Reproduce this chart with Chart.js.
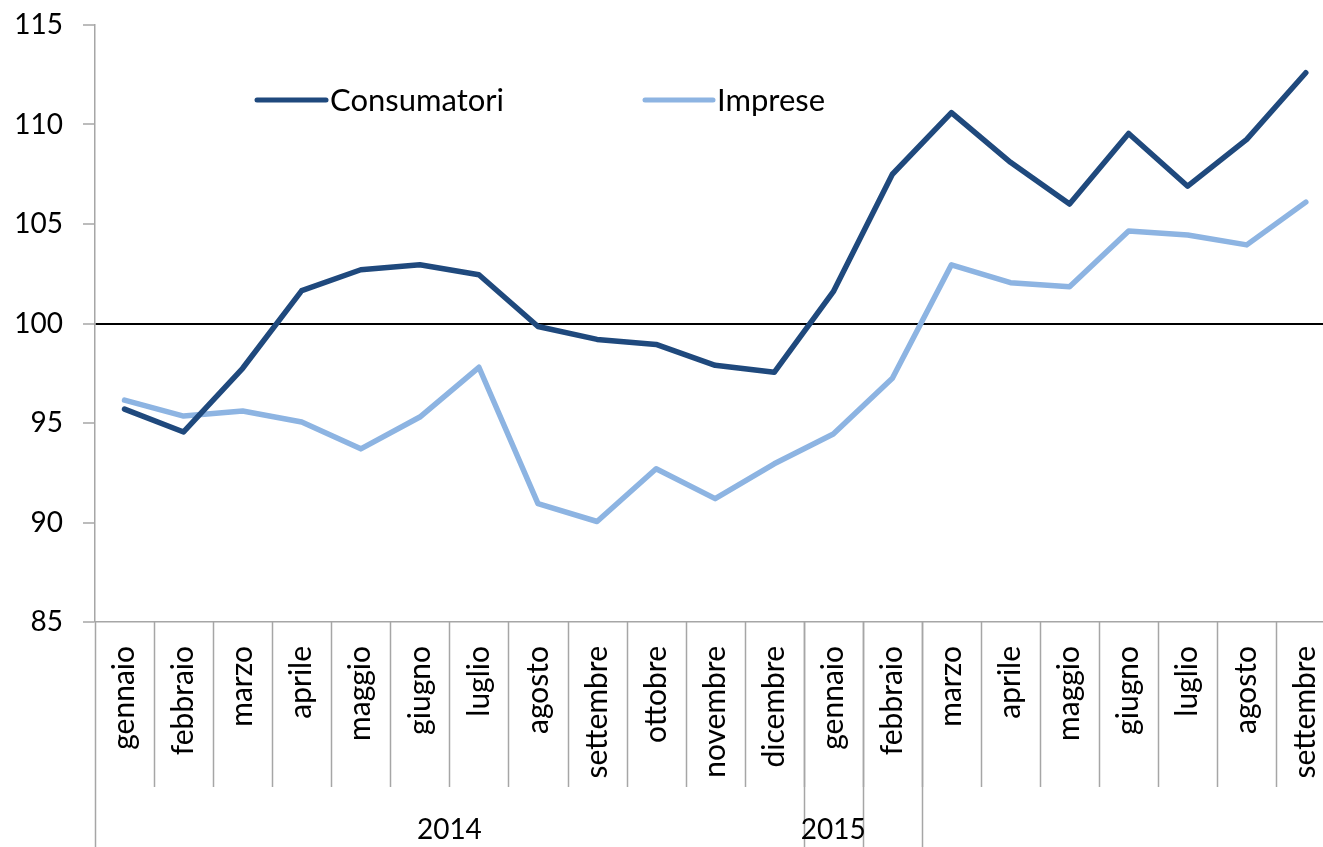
<!DOCTYPE html>
<html>
<head>
<meta charset="utf-8">
<script src="https://cdn.jsdelivr.net/npm/chart.js@4"></script>
<style>
  html, body { margin: 0; padding: 0; background: #fff; overflow: hidden; }
  #wrap { width: 1358px; height: 847px; }
</style>
</head>
<body>
<div id="wrap"><canvas id="myChart" width="1358" height="847"></canvas></div>
<script>
const months = ['gennaio', 'febbraio', 'marzo', 'aprile', 'maggio', 'giugno', 'luglio', 'agosto',
  'settembre', 'ottobre', 'novembre', 'dicembre',
  'gennaio', 'febbraio', 'marzo', 'aprile', 'maggio', 'giugno', 'luglio', 'agosto', 'settembre'];
const consumatori = [95.7, 94.55, 97.75, 101.65, 102.7, 102.95, 102.45, 99.85, 99.2, 98.95, 97.9, 97.55,
  101.6, 107.5, 110.6, 108.1, 106.0, 109.55, 106.9, 109.25, 112.6];
const imprese = [96.15, 95.35, 95.6, 95.05, 93.7, 95.3, 97.8, 90.95, 90.05, 92.7, 91.2, 92.95,
  94.45, 97.25, 102.95, 102.05, 101.85, 104.65, 104.45, 103.95, 106.1];
const years = ['2014', '2015'];
const yearSpans = [[0, 12], [12, 13]];
const yearDividers = [0, 12, 13, 14];
const yTicks = [85, 90, 95, 100, 105, 110, 115];

const FONT = 'Lato, "Noto Sans", sans-serif';
const axisGrey = '#a6a6a6';

const extras = {
  id: 'extras',
  afterDraw(chart) {
    const ctx = chart.ctx;
    const x = chart.scales.x;
    const n = months.length;
    const w = (x.right - x.left) / n;
    const top = x.top;
    ctx.save();
    ctx.strokeStyle = axisGrey;
    ctx.lineWidth = 1.5;
    // separators between months
    for (let i = 1; i <= n; i++) {
      const bx = Math.round(x.left + i * w) + 0.5;
      ctx.beginPath();
      ctx.moveTo(bx, top);
      ctx.lineTo(bx, top + 165);
      ctx.stroke();
    }
    // year dividers
    yearDividers.forEach(i => {
      const bx = Math.round(x.left + i * w) + 0.5;
      ctx.beginPath();
      ctx.moveTo(bx, top);
      ctx.lineTo(bx, chart.height);
      ctx.stroke();
    });
    // year labels
    ctx.fillStyle = '#000';
    ctx.font = '28px ' + FONT;
    ctx.textAlign = 'center';
    ctx.textBaseline = 'middle';
    years.forEach((yr, k) => {
      const cx = x.left + (yearSpans[k][0] + yearSpans[k][1]) / 2 * w;
      ctx.fillText(yr, cx, 830);
    });
    // legend
    const items = [
      { ds: chart.data.datasets[0], x0: 257, x1: 326 },
      { ds: chart.data.datasets[1], x0: 645, x1: 713 }
    ];
    ctx.font = '31px ' + FONT;
    ctx.textAlign = 'left';
    items.forEach(it => {
      ctx.strokeStyle = it.ds.borderColor;
      ctx.lineWidth = 5;
      ctx.lineCap = 'round';
      ctx.beginPath();
      ctx.moveTo(it.x0, 100);
      ctx.lineTo(it.x1, 100);
      ctx.stroke();
      ctx.fillStyle = '#000';
      ctx.fillText(it.ds.label, it.x1 + 4, 101);
    });
    ctx.restore();
  }
};

const ctx = document.getElementById('myChart').getContext('2d');
const chart = new Chart(ctx, {
  type: 'line',
  data: {
    labels: months,
    datasets: [
      {
        label: 'Consumatori',
        data: consumatori,
        borderColor: '#1F497D',
        borderWidth: 5.5,
        pointRadius: 0,
        tension: 0,
        borderCapStyle: 'round',
        borderJoinStyle: 'round'
      },
      {
        label: 'Imprese',
        data: imprese,
        borderColor: '#8DB4E2',
        borderWidth: 5.5,
        pointRadius: 0,
        tension: 0,
        borderCapStyle: 'round',
        borderJoinStyle: 'round'
      }
    ]
  },
  options: {
    responsive: false,
    animation: false,
    layout: { padding: { top: 25, right: 8, left: 0, bottom: 0 } },
    plugins: {
      legend: { display: false },
      tooltip: { enabled: false }
    },
    scales: {
      x: {
        offset: true,
        grid: { display: false },
        border: { color: axisGrey, width: 1.5 },
        ticks: {
          autoSkip: false,
          maxRotation: 90,
          minRotation: 90,
          padding: 16,
          color: '#000',
          font: { family: FONT, size: 30 }
        },
        afterFit(scale) { scale.height = 225; }
      },
      y: {
        min: 85,
        max: 115,
        afterBuildTicks(scale) { scale.ticks = yTicks.map(v => ({ value: v })); },
        grid: {
          drawOnChartArea: true,
          color: c => (c.tick && c.tick.value === 100) ? '#000' : 'rgba(0,0,0,0)',
          lineWidth: c => (c.tick && c.tick.value === 100) ? 2 : 0,
          tickColor: axisGrey,
          tickWidth: 1.5,
          tickLength: 12
        },
        border: { color: axisGrey, width: 1.5 },
        ticks: {
          padding: 20,
          color: '#000',
          font: { family: FONT, size: 28 }
        },
        afterFit(scale) {
          scale.width = 95;
          scale.paddingTop = 0;
          scale.paddingBottom = 0;
        }
      }
    }
  },
  plugins: [extras]
});
</script>
</body>
</html>
